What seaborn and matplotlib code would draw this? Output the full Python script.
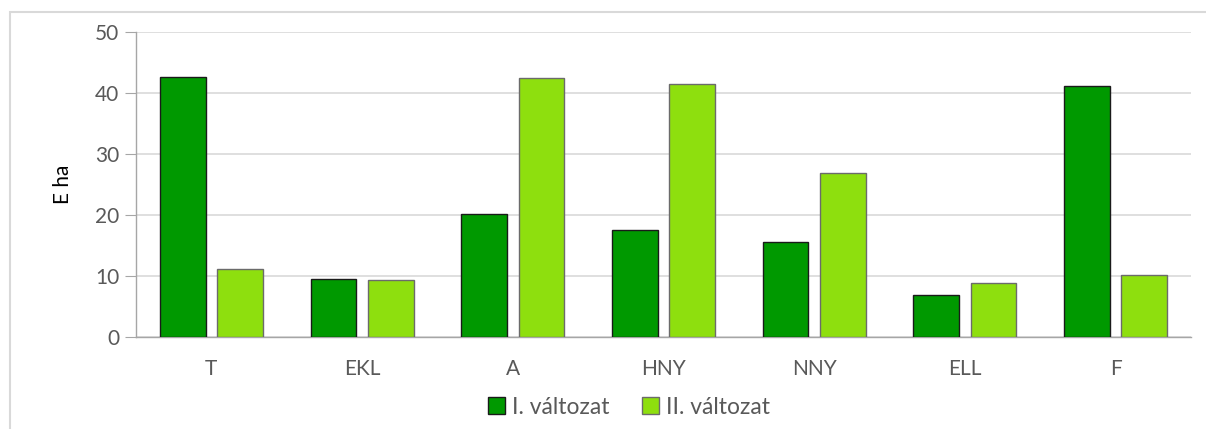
import matplotlib.pyplot as plt
import matplotlib.patches as mpatches
import pandas as pd
import seaborn as sns

# categories and the two variants (E ha)
categories = ['T', 'EKL', 'A', 'HNY', 'NNY', 'ELL', 'F']
variant_1 = [42.6, 9.5, 20.2, 17.5, 15.6, 6.9, 41.2]
variant_2 = [11.2, 9.4, 42.5, 41.5, 26.9, 8.8, 10.1]
series_names = ['I. változat', 'II. változat']
y_ticks = [0, 10, 20, 30, 40, 50]

dark_green = '#009900'
light_green = '#8EDF0E'
text_grey = '#595959'

df = pd.concat([
    pd.DataFrame({'cat': categories, 'value': variant_1, 'series': series_names[0]}),
    pd.DataFrame({'cat': categories, 'value': variant_2, 'series': series_names[1]}),
], ignore_index=True)

sns.set_style('white')
plt.rcParams['font.family'] = ['Lato', 'DejaVu Sans']

fig = plt.figure(figsize=(12.06, 4.29), dpi=100)
ax = fig.add_axes([136 / 1206, 92 / 429, (1191 - 136) / 1206, 305 / 429])

# light frame around the chart area (clipped at right/bottom like the source)
fig.patches.append(mpatches.Rectangle((10 / 1206, -0.1), 1.5, (429 - 12) / 429 + 0.1,
                                      transform=fig.transFigure, fill=False,
                                      edgecolor='#d9d9d9', linewidth=1.5))

sns.barplot(data=df, x='cat', y='value', hue='series', order=categories,
            hue_order=series_names, palette=[dark_green, light_green],
            width=0.76, gap=0.2, saturation=1, legend=False, ax=ax, zorder=3)

# edges: black for dark bars, grey for light ones
n = len(categories)
for i, bar in enumerate(ax.patches):
    bar.set_edgecolor('#1a1a1a' if i < n else '#6b6b6b')
    bar.set_linewidth(1.0)

ax.set_ylim(0, 50)
ax.set_xlim(-0.5, n - 0.5)
ax.set_yticks(y_ticks)
ax.yaxis.grid(True, color='#d9d9d9', linewidth=1.2, zorder=0)
ax.set_axisbelow(True)

for side in ['top', 'right']:
    ax.spines[side].set_visible(False)
for side in ['left', 'bottom']:
    ax.spines[side].set_color('#a6a6a6')
    ax.spines[side].set_linewidth(1.0)

# category labels centred, tick marks between categories
ax.set_xticks(range(n))
ax.set_xticklabels(categories)
ax.tick_params(axis='x', length=0, pad=16, labelsize=15, labelcolor=text_grey)
ax.set_xticks([i - 0.5 for i in range(n + 1)], minor=True)
ax.tick_params(axis='x', which='minor', length=7, color='#a6a6a6', direction='out')
ax.tick_params(axis='y', length=8, color='#a6a6a6', direction='out', pad=4,
               labelsize=15, labelcolor=text_grey, left=True)

ax.set_xlabel('')
ax.set_ylabel('E ha', fontsize=15, color='black', labelpad=16)

handles = [mpatches.Patch(facecolor=dark_green, edgecolor='#1a1a1a', label=series_names[0]),
           mpatches.Patch(facecolor=light_green, edgecolor='#6b6b6b', label=series_names[1])]
leg = fig.legend(handles=handles, loc='center', bbox_to_anchor=(629 / 1206, 1 - 407 / 429),
                 ncol=2, frameon=False, fontsize=16.5, handlelength=0.75, handleheight=0.75,
                 handletextpad=0.3, columnspacing=1.4)
for t in leg.get_texts():
    t.set_color(text_grey)

fig.savefig('out.png', dpi=100)
